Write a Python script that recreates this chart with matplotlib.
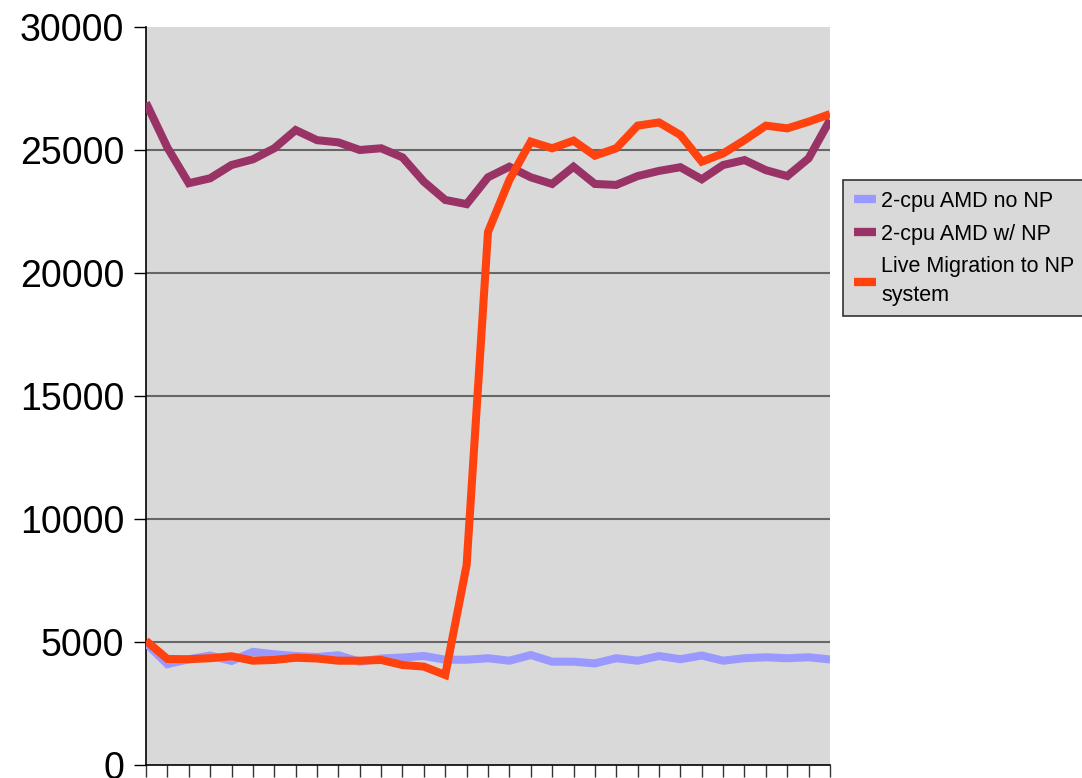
import matplotlib.pyplot as plt
import numpy as np

plt.rcParams["font.family"] = ["Liberation Sans", "DejaVu Sans"]

# values, 33 samples, no x labels
no_np = [4950, 4100, 4300, 4450, 4230, 4600, 4500, 4430, 4390, 4460, 4200,
         4330, 4370, 4430, 4280, 4280, 4340, 4240, 4470, 4200, 4200, 4130,
         4340, 4240, 4430, 4300, 4450, 4240, 4340, 4380, 4340, 4380, 4290]
with_np = [26920, 25100, 23650, 23850, 24390, 24620, 25070, 25810, 25400,
           25310, 25000, 25070, 24700, 23710, 22970, 22800, 23890, 24320,
           23890, 23620, 24320, 23620, 23580, 23940, 24150, 24300, 23810,
           24390, 24590, 24180, 23940, 24660, 26220]
migration = [5050, 4310, 4300, 4340, 4420, 4240, 4270, 4360, 4330, 4240, 4240,
             4270, 4065, 4000, 3660, 8130, 21670, 23780, 25340, 25070, 25380,
             24770, 25070, 25990, 26120, 25610, 24525, 24860, 25400, 25990,
             25880, 26150, 26460]
labels = ["2-cpu AMD no NP", "2-cpu AMD w/ NP", "Live Migration to NP\nsystem"]
colors = ["#9999FF", "#993366", "#FF420E"]
yticks = [0, 5000, 10000, 15000, 20000, 25000, 30000]

x = np.arange(len(no_np))

fig = plt.figure(figsize=(10.82, 7.78), dpi=100)
ax = fig.add_axes([146 / 1082, 13 / 778, 684 / 1082, 738 / 778])
ax.set_facecolor("#D9D9D9")

for yv in yticks[1:-1]:
    ax.axhline(yv, color="#666666", lw=1.5, zorder=1)

for series, lab, col in zip([no_np, with_np, migration], labels, colors):
    ax.plot(x, series, color=col, lw=5.8, label=lab, zorder=3,
            solid_joinstyle="miter", solid_capstyle="butt")

ax.set_xlim(0, len(no_np) - 1)
ax.set_ylim(0, 30000)
ax.set_xticks(x)
ax.set_xticklabels([])
ax.set_yticks(yticks)
ax.set_yticklabels([str(v) for v in yticks], fontsize=27)
ax.tick_params(axis="y", length=8.6, width=1, pad=7)
ax.tick_params(axis="x", length=8.6, width=1, color="#333333")
for side in ["top", "right"]:
    ax.spines[side].set_visible(False)
for side in ["left", "bottom"]:
    ax.spines[side].set_linewidth(1.2)

leg = ax.legend(loc="upper left", bbox_to_anchor=(843 / 1082, 1 - 180 / 778),
                bbox_transform=fig.transFigure, fontsize=15.5, frameon=True,
                fancybox=False, handlelength=1.05, handletextpad=0.22,
                borderpad=0.5, labelspacing=0.55, borderaxespad=0)
leg.get_texts()[2].set_linespacing(1.45)
for h in leg.get_lines():
    h.set_linewidth(6)
leg.get_frame().set_facecolor("#D9D9D9")
leg.get_frame().set_edgecolor("#333333")
leg.get_frame().set_linewidth(1.2)
leg.get_frame().set_alpha(1)

fig.savefig("out.png", dpi=100)
